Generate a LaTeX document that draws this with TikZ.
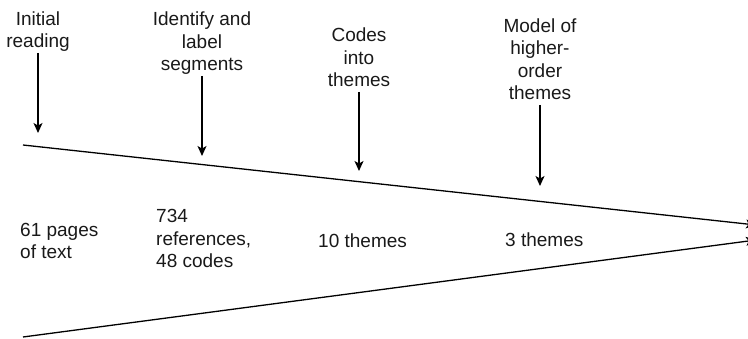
\documentclass[tikz,border=0pt]{standalone}
\usepackage{fontspec}
\setmainfont{Liberation Sans}
\usetikzlibrary{arrows.meta}
\begin{document}
\begin{tikzpicture}[x=1pt,y=-1pt,
  txt/.style={font=\fontsize{19}{22.5}\selectfont, inner sep=0pt, text depth=0pt, text=black!90},
  steplabel/.style={txt, align=center, anchor=south},
  countlabel/.style={txt, align=left, anchor=south west},
  pointer/.style={line width=1.3pt, -{Stealth[length=10pt,width=9pt,inset=2.5pt]}, shorten <=5pt},
  funnel/.style={line width=1.3pt, -{Stealth[length=10pt,width=9pt,inset=2.5pt]}}]
  \useasboundingbox (0,0) rectangle (748,339);

  % converging funnel edges
  \coordinate (topL) at (23,145);
  \coordinate (topR) at (756,225);
  \coordinate (botL) at (23,337);
  \coordinate (botR) at (756,240);
  \draw[funnel] (topL) -- (topR);
  \draw[funnel] (botL) -- (botR);

  % analysis steps above the funnel
  \node[steplabel] (s1) at (38,48) {Initial\\reading};
  \node[steplabel] (s2) at (202,71) {Identify and\\label\\segments};
  \node[steplabel] (s3) at (359,87) {Codes\\into\\themes};
  \node[steplabel] (s4) at (540,100) {Model of\\higher-\\order\\themes};

  \coordinate (e1) at (38,133);
  \coordinate (e2) at (202,156);
  \coordinate (e3) at (359,171);
  \coordinate (e4) at (540,186);
  \draw[pointer] (s1.south) -- (e1);
  \draw[pointer] (s2.south) -- (e2);
  \draw[pointer] (s3.south) -- (e3);
  \draw[pointer] (s4.south) -- (e4);

  % amount of material at each stage
  \node[countlabel] (c1) at (20,259) {61 pages\\of text};
  \node[countlabel] (c2) at (156,268) {734\\references,\\48 codes};
  \node[countlabel] (c3) at (318,248) {10 themes};
  \node[countlabel] (c4) at (505,247) {3 themes};
\end{tikzpicture}
\end{document}
